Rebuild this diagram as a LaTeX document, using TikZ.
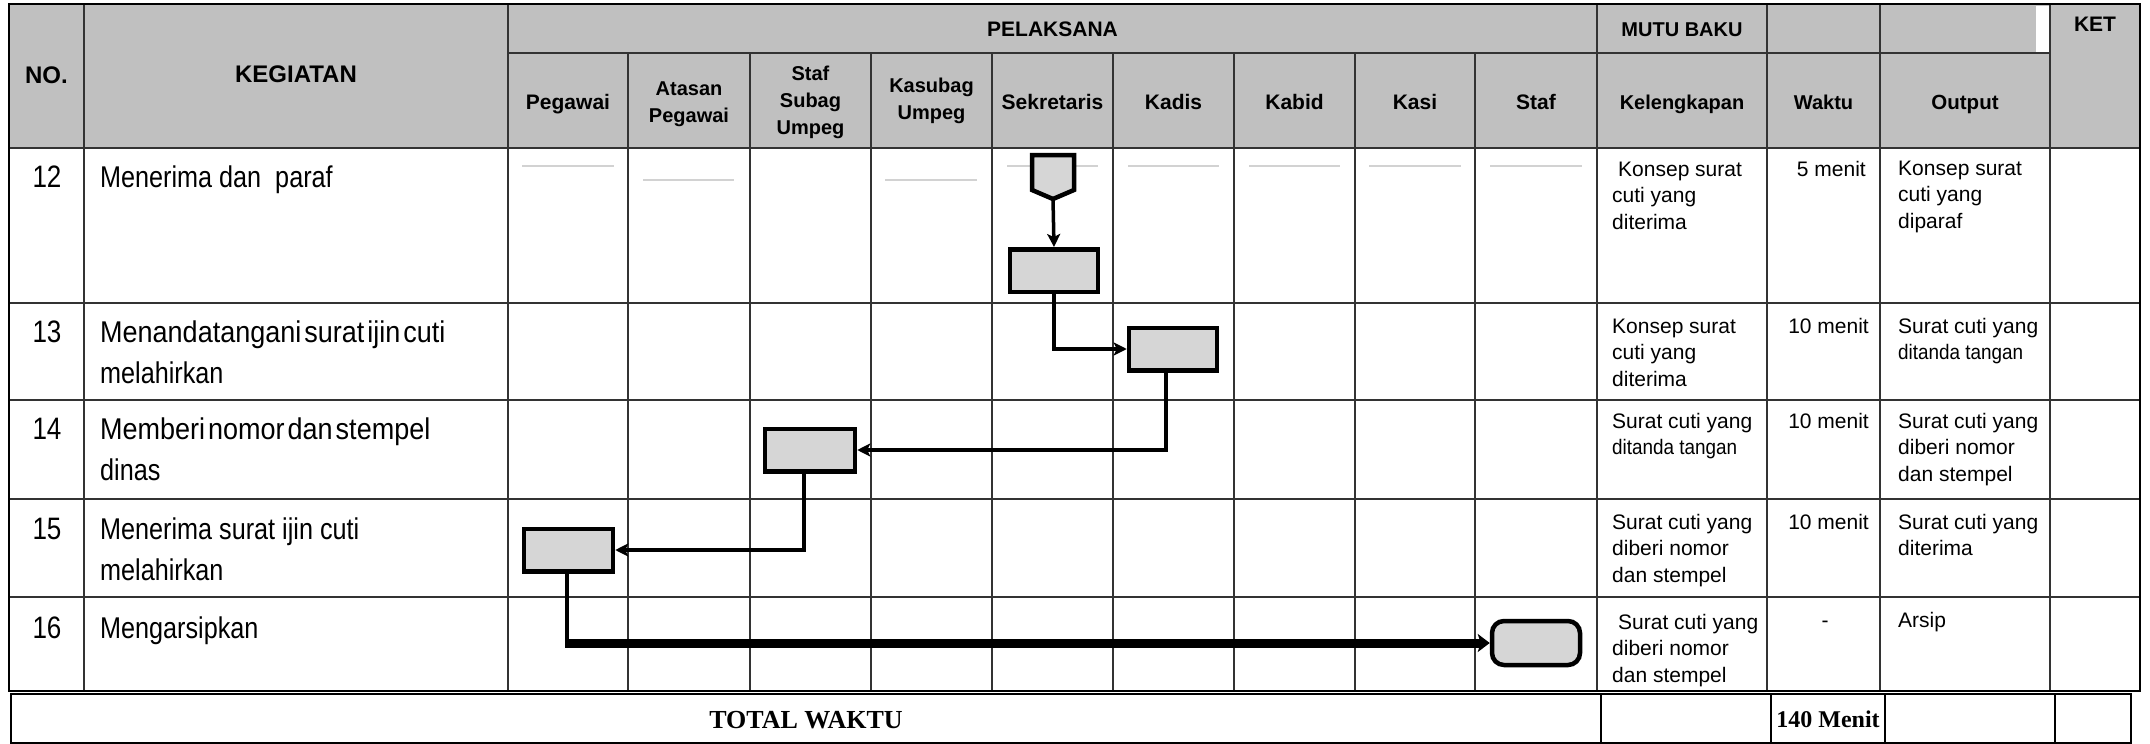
\documentclass[tikz,border=0pt]{standalone}
\usepackage{fontspec}
\setmainfont{Liberation Sans}
\newfontfamily\narrowsf[FakeStretch=0.84]{Liberation Sans}
\newfontfamily\tightsf[FakeStretch=0.9]{Liberation Sans}
\newfontfamily\semisf[FakeStretch=0.9]{Liberation Sans}
\newfontfamily\serifrm{Liberation Serif}
\usetikzlibrary{arrows.meta}
\definecolor{headgray}{HTML}{C0C0C0}
\definecolor{boxgray}{HTML}{D6D6D6}
\definecolor{guidegray}{HTML}{D2D2D2}
% stacked lines, baseline on the first line
\newcommand\cellstack[1]{\vtop{\halign{##\hfil\cr#1\crcr}}}
\newcommand\centerstack[1]{\vtop{\halign{\hfil##\hfil\cr#1\crcr}}}
% wider letters with narrow word gaps
\newcommand\tightline[1]{{\tightsf\spaceskip=3pt#1}}

\begin{document}
\begin{tikzpicture}[x=1pt,y=-1pt,
  gridline/.style={draw=black!80,line width=1.6pt},
  frameline/.style={draw=black,line width=2.2pt},
  guide/.style={draw=guidegray,line width=1.6pt},
  hdr/.style={font={\bfseries\fontsize{21}{27}\selectfont},inner sep=0,anchor=base},
  hdrsmall/.style={font={\bfseries\fontsize{20}{27}\selectfont},inner sep=0,anchor=base},
  hdrbig/.style={font={\bfseries\fontsize{24}{27}\selectfont},inner sep=0,anchor=base},
  numtxt/.style={font={\narrowsf\fontsize{31}{41}\selectfont},inner sep=0,anchor=base},
  acttxt/.style={font={\narrowsf\fontsize{30}{41}\selectfont},inner sep=0,anchor=base west},
  rtxt/.style={font={\fontsize{21}{26.5}\selectfont},inner sep=0,anchor=base west},
  wtxt/.style={font={\fontsize{21}{26.5}\selectfont},inner sep=0,anchor=base east},
  totaltxt/.style={font={\serifrm\bfseries\fontsize{26}{28}\selectfont},inner sep=0,anchor=base},
  procbox/.style={draw=black,fill=boxgray,line width=4.5pt,minimum width=88pt,minimum height=42.5pt,inner sep=0},
  termbox/.style={procbox,rounded corners=12pt,minimum height=44pt},
  flow/.style={line width=3.5pt,-{Stealth[length=13pt,width=13pt,inset=3pt]}},
  flowheavy/.style={line width=9pt,-{Stealth[length=12pt,width=18pt,inset=3pt]}}
]
\useasboundingbox (0,0) rectangle (2150,744);

% header background
\fill[headgray] (9,4) rectangle (2140,148);
\fill[white] (2036,6) rectangle (2049,52);

% faint guide strokes in the first row
\draw[guide] (522,166) -- (614,166);
\draw[guide] (643,180) -- (734,180);
\draw[guide] (885,180) -- (977,180);
\draw[guide] (1007,166) -- (1098,166);
\draw[guide] (1128,166) -- (1219,166);
\draw[guide] (1249,166) -- (1340,166);
\draw[guide] (1369,166) -- (1461,166);
\draw[guide] (1490,166) -- (1582,166);

% table grid
\draw[gridline] (508,53) -- (2050,53);
\foreach \y in {148,303,400,499,597} \draw[gridline] (9,\y) -- (2140,\y);
\foreach \x in {84,508,1597,1767,1880,2050} \draw[gridline] (\x,4) -- (\x,691);
\foreach \x in {628,750,871,992,1113,1234,1355,1475} \draw[gridline] (\x,53) -- (\x,691);
\draw[frameline] (9,4) rectangle (2140,691);

% total row
\draw[frameline] (11,694) rectangle (2131,743);
\foreach \x in {1601,1771,1885,2055} \draw[frameline] (\x,694) -- (\x,743);

% header texts
\node[hdrbig] (hNo) at (46.5,83) {NO.};
\node[hdrbig] (hKeg) at (296,82) {KEGIATAN};
\node[hdr] (hPel) at (1052.5,36) {PELAKSANA};
\node[hdr,font={\bfseries\fontsize{20}{27}\selectfont}] (hMutu) at (1682,36) {MUTU BAKU};
\node[hdr] (hKet) at (2095,31) {KET};
\node[hdr] (hPeg) at (568,109) {Pegawai};
\node[hdrsmall] (hAts) at (689,95) {\centerstack{Atasan\cr Pegawai}};
\node[hdrsmall] (hSsu) at (810.5,80) {\centerstack{Staf\cr Subag\cr Umpeg}};
\node[hdrsmall] (hKsb) at (931.5,92) {\centerstack{Kasubag\cr Umpeg}};
\node[hdr] (hSek) at (1052.5,109) {Sekretaris};
\node[hdr] (hKds) at (1173.5,109) {Kadis};
\node[hdr] (hKbd) at (1294.5,109) {Kabid};
\node[hdr] (hKsi) at (1415,109) {Kasi};
\node[hdr] (hStf) at (1536,109) {Staf};
\node[hdr,font={\bfseries\fontsize{20}{27}\selectfont}] (hKel) at (1682,109) {Kelengkapan};
\node[hdr,font={\bfseries\fontsize{20}{27}\selectfont}] (hWkt) at (1823.5,109) {Waktu};
\node[hdr,font={\bfseries\fontsize{20.5}{27}\selectfont}] (hOut) at (1965,109) {Output};

% row numbers and activities
\node[numtxt] (n12) at (47,187) {12};
\node[numtxt] (n13) at (47,342) {13};
\node[numtxt] (n14) at (47,439) {14};
\node[numtxt] (n15) at (47,539) {15};
\node[numtxt] (n16) at (47,638) {16};
\node[acttxt] (a12) at (100,187) {Menerima dan\ \ paraf};
\node[acttxt] (a13) at (100,342) {\cellstack{\tightline{Menandatangani surat ijin cuti}\cr melahirkan}};
\node[acttxt] (a14) at (100,439) {\cellstack{\tightline{Memberi nomor dan stempel}\cr dinas}};
\node[acttxt] (a15) at (100,539) {\cellstack{Menerima surat ijin cuti\cr melahirkan}};
\node[acttxt] (a16) at (100,638) {Mengarsipkan};

% quality standard columns
\node[rtxt] (k12) at (1612,176) {\cellstack{\kern6pt Konsep surat\cr cuti yang\cr diterima}};
\node[rtxt] (k13) at (1612,333) {\cellstack{Konsep surat\cr cuti yang\cr diterima}};
\node[rtxt] (k14) at (1612,428) {\cellstack{Surat cuti yang\cr {\semisf ditanda tangan}}};
\node[rtxt] (k15) at (1612,529) {\cellstack{Surat cuti yang\cr diberi nomor\cr dan stempel}};
\node[rtxt] (k16) at (1612,629) {\cellstack{\kern6pt Surat cuti yang\cr diberi nomor\cr dan stempel}};
\node[wtxt] (w12) at (1866,176) {5 menit};
\node[wtxt] (w13) at (1869,333) {10 menit};
\node[wtxt] (w14) at (1869,428) {10 menit};
\node[wtxt] (w15) at (1869,529) {10 menit};
\node[rtxt,anchor=base] (w16) at (1825,627) {-};
\node[rtxt] (o12) at (1898,175) {\cellstack{Konsep surat\cr cuti yang\cr diparaf}};
\node[rtxt] (o13) at (1898,333) {\cellstack{Surat cuti yang\cr {\semisf ditanda tangan}}};
\node[rtxt] (o14) at (1898,428) {\cellstack{Surat cuti yang\cr diberi nomor\cr dan stempel}};
\node[rtxt] (o15) at (1898,529) {\cellstack{Surat cuti yang\cr diterima}};
\node[rtxt] (o16) at (1898,627) {Arsip};

% totals
\node[totaltxt] (tot) at (806,728) {TOTAL WAKTU};
\node[totaltxt,font={\serifrm\bfseries\fontsize{24}{26}\selectfont}] (totv) at (1828,727) {140 Menit};

% flow symbols
\filldraw[fill=boxgray,draw=black,line width=4.5pt,line join=miter]
  (1032,155) -- (1074,155) -- (1074,190) -- (1053,199) -- (1032,190) -- cycle;
\coordinate (c12) at (1053,199);
\node[procbox] (b12) at (1054,270.5) {};
\node[procbox] (b13) at (1173,349) {};
\node[procbox,minimum width=90pt] (b14) at (810,450) {};
\node[procbox,minimum width=89pt] (b15) at (568.5,550) {};
\node[termbox] (t16) at (1536,643) {};

% connectors
\draw[flow] (c12) -- (b12.north);
\draw[flow] (b12.south) |- (b13.west);
\draw[flow] ([xshift=-7pt]b13.south) |- (b14.east);
\draw[flow] ([xshift=-6pt]b14.south) |- (b15.east);
\coordinate (k16) at ([xshift=-1.5pt]b15.south |- t16.west);
\draw[line width=3.5pt] ([xshift=-1.5pt]b15.south) -- ([yshift=-1.5pt]k16);
\draw[flowheavy] ([xshift=-1.75pt]k16) -- (t16.west);
\end{tikzpicture}
\end{document}
